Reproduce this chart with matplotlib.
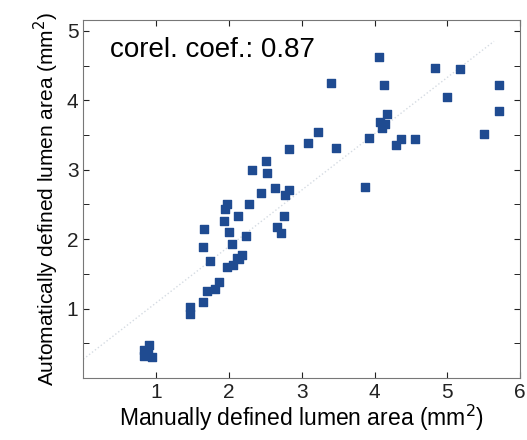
import numpy as np
import matplotlib.pyplot as plt

plt.rcParams['font.family'] = ['Liberation Sans', 'DejaVu Sans']

manual = np.array([0.83, 0.83, 0.90, 0.89, 0.94,
                   1.46, 1.47, 1.64, 1.70, 1.81, 1.86, 1.74, 1.65, 1.66,
                   1.98, 2.05, 2.11, 2.14, 2.18, 2.04, 2.00, 1.93, 1.94, 1.97,
                   2.12, 2.24, 2.28, 2.32, 2.44, 2.51, 2.53, 2.63, 2.66, 2.72,
                   2.76, 2.77, 2.82, 2.83, 3.08, 3.22, 3.40, 3.47, 3.87, 3.93,
                   4.06, 4.08, 4.10, 4.15, 4.13, 4.17, 4.29, 4.36, 4.55, 4.83,
                   4.99, 5.18, 5.51, 5.71, 5.71])
auto = np.array([0.41, 0.32, 0.47, 0.38, 0.30,
                 1.02, 0.92, 1.10, 1.26, 1.28, 1.38, 1.69, 1.89, 2.15,
                 1.60, 1.63, 1.73, 1.72, 1.77, 1.93, 2.11, 2.26, 2.44, 2.51,
                 2.34, 2.05, 2.51, 2.99, 2.67, 3.12, 2.96, 2.73, 2.17, 2.09,
                 2.34, 2.63, 2.71, 3.30, 3.38, 3.54, 4.25, 3.32, 2.75, 3.45,
                 4.63, 3.69, 3.60, 3.66, 4.22, 3.81, 3.36, 3.44, 3.44, 4.47,
                 4.05, 4.45, 3.51, 4.22, 3.84])

# fitted line
line_x = np.array([0.0, 5.64])
line_y = np.array([0.27, 4.85])

fig = plt.figure(figsize=(5.27, 4.4), dpi=100)
ax = fig.add_axes([0.158, 0.141, 0.829, 0.814])

ax.plot(line_x, line_y, ':', color='#d5dbe2', lw=1)
ax.scatter(manual, auto, marker='s', s=26, color='#1f4b91', zorder=3)

ax.text(0.37, 4.73, 'corel. coef.: 0.87', fontsize=20, va='center')

ax.set_xlim(0, 6)
ax.set_ylim(0, 5.16)
ax.set_xticks([1, 2, 3, 4, 5, 6])
ax.set_yticks([1, 2, 3, 4, 5])
ax.set_yticks(np.arange(0.5, 5.1, 0.5), minor=True)
ax.tick_params(direction='in', top=True, right=True, labelsize=15, colors='#222222', length=4)
ax.tick_params(which='minor', direction='in', right=True, left=True, length=4)
for s in ax.spines.values():
    s.set_color('#777777')

ax.set_xlabel('Manually defined lumen area (mm$^2$)', fontsize=16.5, labelpad=1)
ax.set_ylabel('Automatically defined lumen area (mm$^2$)', fontsize=15, labelpad=4)

fig.savefig('out.png', dpi=100)
